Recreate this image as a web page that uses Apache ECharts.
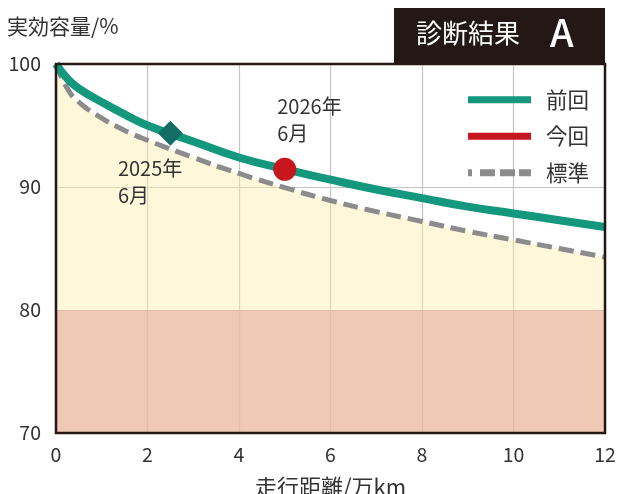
<!DOCTYPE html>
<html><head><meta charset="utf-8">
<script src="https://cdn.jsdelivr.net/npm/echarts@6/dist/echarts.min.js"></script>
<style>html,body{margin:0;padding:0;background:#fff}#c{width:617px;height:494px}</style>
</head><body><div id="c"></div>
<script>
// distance (万km)
const distance = [0, 0.25, 0.5, 1, 1.5, 2, 3, 4, 5, 6, 7, 8, 9, 10, 11, 12];
// 前回 curve (%)
const prevCapacity = [100, 98.8, 98.0, 96.9, 95.9, 95.0, 93.7, 92.4, 91.45, 90.6, 89.8, 89.1, 88.4, 87.85, 87.3, 86.75];
// 標準 curve (%)
const stdCapacity = [100, 98.0, 96.9, 95.6, 94.6, 93.8, 92.4, 91.1, 89.95, 88.9, 88.0, 87.2, 86.4, 85.7, 85.0, 84.3];
// check points
const prevCheck = [2.5, 94.37];
const currCheck = [5.0, 91.44];
const prevCheckLabel = '2025年\n6月';
const currCheckLabel = '2026年\n6月';
const seriesNames = ['前回', '今回', '標準'];
const yTicks = [70, 80, 90, 100];
const xTicks = [0, 2, 4, 6, 8, 10, 12];
const badgeTitle = '診断結果';
const badgeGrade = 'A';
const yName = '実効容量/%';
const xName = '走行距離/万km';

const FONT = 'Noto Sans CJK JP';
const TXT = '#333333';
const chart = echarts.init(document.getElementById('c'), null, {renderer: 'canvas'});
const zip = (xs, ys) => xs.map((x, i) => [x, ys[i]]);

chart.setOption({
  animation: false,
  textStyle: {fontFamily: FONT},
  grid: {left: 56, right: 12, top: 64, bottom: 61, outerBoundsMode: 'none', containLabel: false, show: true, borderColor: '#231815', borderWidth: 2.5, backgroundColor: 'transparent', z: 5},
  xAxis: {
    type: 'value', min: xTicks[0], max: xTicks[xTicks.length - 1], interval: 2,
    axisLine: {show: false}, axisTick: {show: false},
    axisLabel: {fontSize: 19.5, color: TXT, margin: 12, fontFamily: FONT},
    splitLine: {show: true, lineStyle: {color: '#c4c4c4', width: 1.2}},
    name: xName, nameLocation: 'middle', nameGap: 43,
    nameTextStyle: {fontSize: 22, color: TXT, fontFamily: FONT}
  },
  yAxis: {
    type: 'value', min: yTicks[0], max: yTicks[yTicks.length - 1], interval: 10,
    axisLine: {show: false}, axisTick: {show: false},
    axisLabel: {fontSize: 19.5, color: TXT, margin: 15, fontFamily: FONT},
    splitLine: {show: true, lineStyle: {color: '#c4c4c4', width: 1.2}}
  },
  legend: {
    orient: 'vertical', left: 463, top: 84,
    itemWidth: 63, itemHeight: 7, itemGap: 15,
    textStyle: {fontSize: 21.5, color: TXT, fontFamily: FONT, padding: [0, 0, 0, 10]},
    itemStyle: {borderWidth: 0, opacity: 1},
    data: [
      {name: seriesNames[0], icon: 'rect'},
      {name: seriesNames[1], icon: 'rect'},
      {name: seriesNames[2], icon: 'path://M0,0h4v7h-4z M12,0h15v7h-15z M32,0h15v7h-15z M51,0h12v7h-12z'}
    ]
  },
  graphic: [
    {type: 'rect', left: 394, top: 8, shape: {width: 211, height: 55}, style: {fill: '#231815'}, z: 100},
    {type: 'text', left: 416, top: 20, style: {text: badgeTitle, fill: '#fff', font: '26px "Noto Sans CJK JP"'}, z: 101},
    {type: 'text', left: 550, top: 14, style: {text: badgeGrade, fill: '#fff', font: '500 38px "Noto Sans CJK JP"'}, z: 101},
    {type: 'text', left: 7, top: 16, style: {text: yName, fill: TXT, font: '21px "Noto Sans CJK JP"'}, z: 101}
  ],
  series: [
    {
      name: seriesNames[2], type: 'line', smooth: true, symbol: 'none', z: 2,
      data: zip(distance, stdCapacity),
      itemStyle: {color: '#8c8c8c'},
      lineStyle: {color: '#8c8c8c', width: 5, type: [15, 7]},
      areaStyle: {origin: 80, color: 'rgba(252,236,170,0.62)'},
      markArea: {silent: true, itemStyle: {color: 'rgba(235,188,161,0.8)'}, data: [[{yAxis: 70}, {yAxis: 80}]]}
    },
    {
      name: seriesNames[0], type: 'line', smooth: true, symbol: 'none', z: 3,
      data: zip(distance, prevCapacity),
      itemStyle: {color: '#13977d'},
      lineStyle: {color: '#13977d', width: 8}
    },
    {
      name: 'prevCheck', type: 'scatter', z: 4,
      data: [prevCheck], symbol: 'diamond', symbolSize: 25,
      itemStyle: {color: '#136c66', opacity: 1},
      label: {show: true, formatter: prevCheckLabel, position: [-40, 34], align: 'left', fontSize: 20, lineHeight: 27, color: TXT, fontFamily: FONT}
    },
    {
      name: seriesNames[1], type: 'scatter', z: 4,
      data: [currCheck], symbol: 'circle', symbolSize: 23,
      itemStyle: {color: '#c8161e', opacity: 1},
      label: {show: true, formatter: currCheckLabel, position: [4, -65], align: 'left', fontSize: 20, lineHeight: 27, color: TXT, fontFamily: FONT}
    }
  ]
});
</script></body></html>
